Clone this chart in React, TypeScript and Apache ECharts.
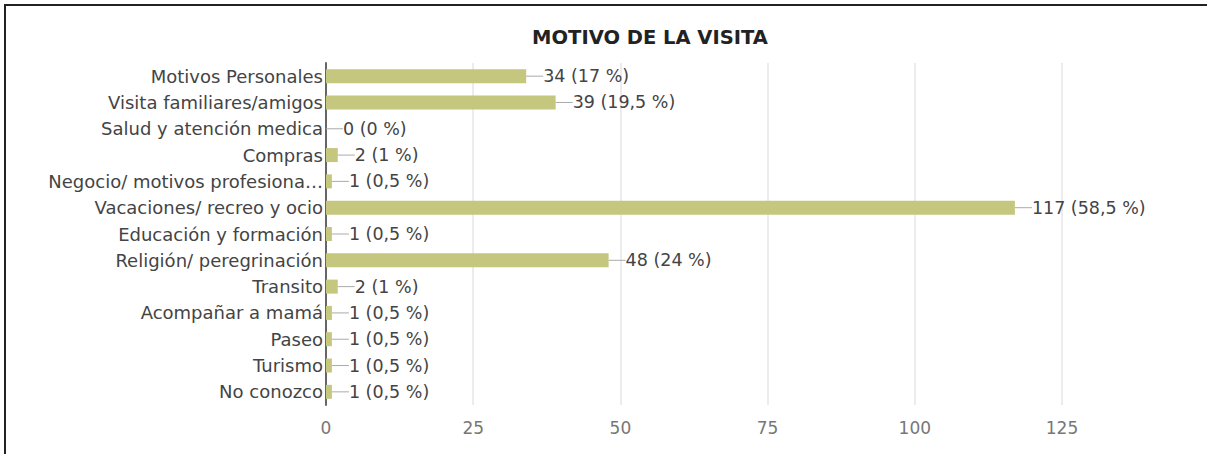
import React, { useEffect, useRef } from "react";
import * as echarts from "echarts";

const categories = [
  "Motivos Personales",
  "Visita familiares/amigos",
  "Salud y atención medica",
  "Compras",
  "Negocio/ motivos profesiona…",
  "Vacaciones/ recreo y ocio",
  "Educación y formación",
  "Religión/ peregrinación",
  "Transito",
  "Acompañar a mamá",
  "Paseo",
  "Turismo",
  "No conozco",
];
const values = [34, 39, 0, 2, 1, 117, 1, 48, 2, 1, 1, 1, 1];
const percents = ["17", "19,5", "0", "1", "0,5", "58,5", "0,5", "24", "1", "0,5", "0,5", "0,5", "0,5"];
const xTicks = { min: 0, max: 125, interval: 25 };

const FONT = "DejaVu Sans, Liberation Sans, sans-serif";

export default function App() {
  const ref = useRef<HTMLDivElement>(null);
  useEffect(() => {
    if (!ref.current) return;
    const chart = echarts.init(ref.current, null, { renderer: "svg" });
    chart.setOption({
      animation: false,
      backgroundColor: "#ffffff",
      textStyle: { fontFamily: FONT },
      title: {
        text: "MOTIVO DE LA VISITA",
        left: 645,
        top: 22,
        textAlign: "center",
        textStyle: { fontSize: 19.5, fontWeight: "bold", color: "#222", fontFamily: FONT },
      },
      graphic: [
        { type: "line", shape: { x1: 4, y1: 5, x2: 1207, y2: 5 }, style: { stroke: "#222", lineWidth: 2 } },
        { type: "line", shape: { x1: 5, y1: 4, x2: 5, y2: 454 }, style: { stroke: "#222", lineWidth: 2 } },
      ],
      grid: { left: 326, right: 145, top: 63, bottom: 49, containLabel: false },
      xAxis: {
        type: "value",
        min: xTicks.min,
        max: xTicks.max,
        interval: xTicks.interval,
        axisLine: { show: false },
        axisTick: { show: false },
        splitLine: { lineStyle: { color: "#ececec", width: 2 } },
        axisLabel: { color: "#777", fontSize: 17, margin: 14, fontFamily: FONT },
      },
      yAxis: {
        type: "category",
        data: categories,
        inverse: true,
        axisLine: { show: true, lineStyle: { color: "#666", width: 2 } },
        axisTick: { show: false },
        axisLabel: { color: "#444", fontSize: 18, margin: 3, fontFamily: FONT },
        splitLine: { show: false },
      },
      series: [
        {
          type: "bar",
          data: values,
          barWidth: 14,
          itemStyle: { color: "#c5c77f" },
          label: {
            show: true,
            position: "right",
            distance: 0,
            formatter: (p: any) => `{l|}{t|${p.value} (${percents[p.dataIndex]} %)}`,
            rich: {
              l: { width: 17, height: 1, backgroundColor: "#aaa" },
              t: { color: "#444", fontSize: 17.5, fontFamily: FONT },
            },
          },
        },
      ],
    });
    return () => chart.dispose();
  }, []);
  return (
    <div
      ref={ref}
      style={{ position: "fixed", left: 0, top: 0, width: 1207, height: 454, background: "#fff" }}
    />
  );
}
